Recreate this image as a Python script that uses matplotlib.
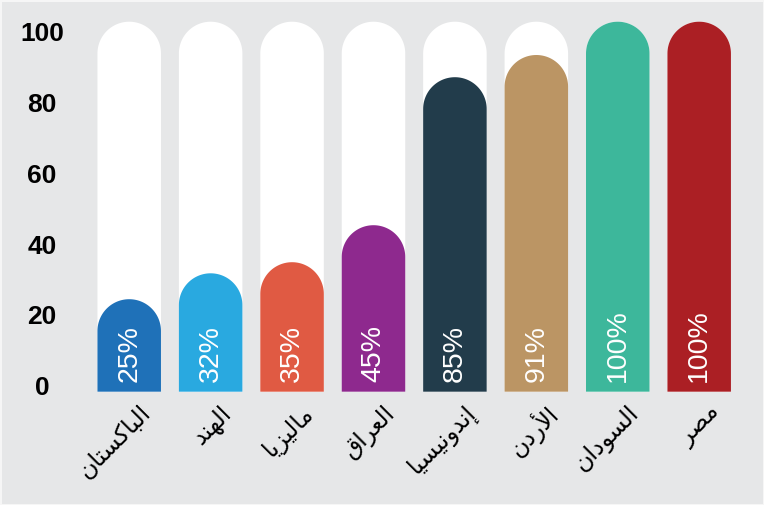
import numpy as np
import matplotlib
matplotlib.use('Agg')
import matplotlib.pyplot as plt
from matplotlib.patches import Polygon

# datos del grafico
countries = ['الباكستان', 'الهند', 'ماليزيا', 'العراق', 'إندونيسيا', 'الأردن', 'السودان', 'مصر']
values = [25, 32, 35, 45, 85, 91, 100, 100]
colors = ['#1f71b8', '#29a9e0', '#e05a43', '#8e298e', '#223c4b', '#bb9564', '#3db79b', '#ab1f24']
y_ticks = [0, 20, 40, 60, 80, 100]

# formas de presentacion arabes: letra -> (forma aislada, numero de formas)
FORMS = {
    'ا': (0xFE8D, 2), 'أ': (0xFE83, 2), 'إ': (0xFE87, 2), 'آ': (0xFE81, 2),
    'ب': (0xFE8F, 4), 'ت': (0xFE95, 4), 'د': (0xFEA9, 2), 'ر': (0xFEAD, 2),
    'ز': (0xFEAF, 2), 'س': (0xFEB1, 4), 'ص': (0xFEB9, 4), 'ع': (0xFEC9, 4),
    'ق': (0xFED5, 4), 'ك': (0xFED9, 4), 'ل': (0xFEDD, 4), 'م': (0xFEE1, 4),
    'ن': (0xFEE5, 4), 'ه': (0xFEE9, 4), 'و': (0xFEED, 2), 'ي': (0xFEF1, 4),
}
LAM_ALEF = {'ا': 0xFEFB, 'أ': 0xFEF7, 'إ': 0xFEF9, 'آ': 0xFEF5}


def shape_arabic(word):
    """matplotlib no une letras arabes: se eligen las formas contextuales y se invierte el orden"""
    units = []
    i = 0
    while i < len(word):
        ch = word[i]
        if ch == 'ل' and i + 1 < len(word) and word[i + 1] in LAM_ALEF:
            units.append((LAM_ALEF[word[i + 1]], 2))
            i += 2
        else:
            units.append(FORMS[ch])
            i += 1
    out = []
    for k, (base, n) in enumerate(units):
        prev_joins = k > 0 and units[k - 1][1] == 4
        next_joins = n == 4 and k + 1 < len(units)
        if prev_joins and next_joins:
            off = 3
        elif prev_joins:
            off = 1
        elif next_joins:
            off = 2
        else:
            off = 0
        out.append(chr(base + off))
    return ''.join(reversed(out))


def rounded_bar(ax, x, top, width, r_y, color, bottom=0.0):
    """Barra con tapa semicircular (r_y es el radio en unidades de y)"""
    half = width / 2
    theta = np.linspace(0, np.pi, 80)
    cy = top - r_y
    xs = np.concatenate([[x + half], x + half * np.cos(theta), [x - half]])
    ys = np.concatenate([[bottom], cy + r_y * np.sin(theta), [bottom]])
    ax.add_patch(Polygon(np.column_stack([xs, ys]), closed=True,
                         facecolor=color, edgecolor='none'))


plt.rcParams['font.family'] = ['Liberation Sans', 'DejaVu Sans']
bg = '#e6e7e8'
W, H = 764, 505
fig = plt.figure(figsize=(W / 100, H / 100), dpi=100)
fig.patch.set_facecolor(bg)
fig.patch.set_edgecolor('#f6f6f6')
fig.patch.set_linewidth(2)

ax_px = (88.5, 113.3, 651.4, 388.5)  # izquierda, abajo, ancho, alto en pixeles
ax = fig.add_axes([ax_px[0] / W, ax_px[1] / H, ax_px[2] / W, ax_px[3] / H])
ax.set_facecolor(bg)
ymax = 105
ax.set_xlim(-0.5, len(values) - 0.5)
ax.set_ylim(0, ymax)
for s in ax.spines.values():
    s.set_visible(False)

bar_w = 0.78
px_x = ax_px[2] / len(values)
px_y = ax_px[3] / ymax
r_y = (bar_w / 2) * px_x / px_y

for i, (v, c) in enumerate(zip(values, colors)):
    rounded_bar(ax, i, 100, bar_w, r_y, 'white', bottom=-0.3)
    rounded_bar(ax, i, v, bar_w, r_y, c)
    ax.text(i, 2.6, f'{v}%', rotation=90, ha='center', va='bottom',
            color='white', fontsize=20.5)
    ax.annotate(shape_arabic(countries[i]), xy=(i, 0), xytext=(13, -13),
                textcoords='offset points', rotation=45, ha='right', va='center',
                rotation_mode='anchor', fontsize=17, color='black')

# las etiquetas del eje estan en una escala un poco mas corta que las barras
tick_pos = [1.6 + 0.957 * t for t in y_ticks]
ax.set_yticks(tick_pos)
ax.set_yticklabels([str(t) for t in y_ticks], fontweight='bold', fontsize=19)
for lab in ax.get_yticklabels():
    lab.set_ha('center')
ax.tick_params(axis='y', length=0, pad=33.5)
ax.set_xticks([])

fig.savefig('out.png', dpi=100, facecolor=fig.get_facecolor(), edgecolor=fig.get_edgecolor())
